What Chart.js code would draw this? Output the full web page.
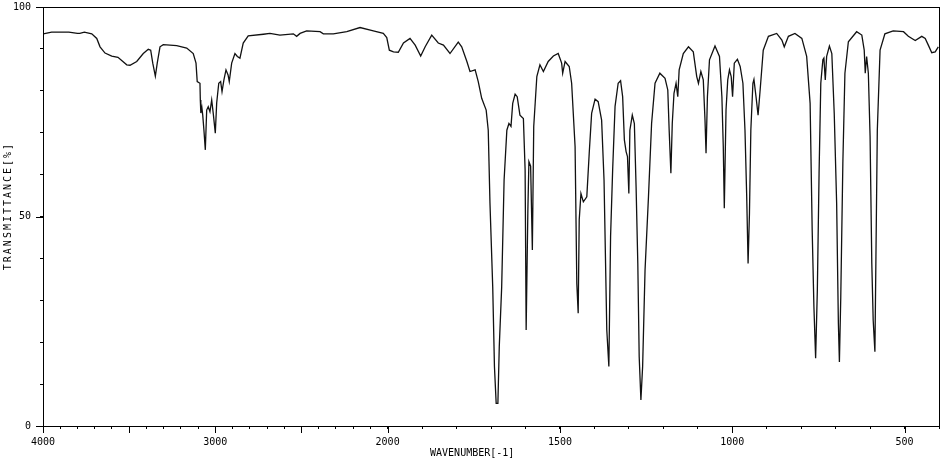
<!DOCTYPE html>
<html>
<head>
<meta charset="utf-8">
<script src="https://cdn.jsdelivr.net/npm/chart.js@4/dist/chart.umd.min.js"></script>
<style>
  html, body { margin: 0; padding: 0; background: #fff; }
  #wrap { width: 951px; height: 464px; position: relative; }
</style>
</head>
<body>
<div id="wrap"><canvas id="c"></canvas></div>
<script>
// ---- data ----
const wavenumbers = [
  3998, 3950, 3900, 3850, 3800, 3786, 3760, 3717, 3688, 3669, 3640, 3601, 3565, 3514, 3495,
  3456, 3418, 3389, 3375, 3363, 3348, 3337, 3321, 3302, 3224, 3166, 3128, 3112, 3105, 3089,
  3087, 3084, 3078, 3073, 3066, 3058, 3050, 3041, 3031, 3021, 3012, 3000, 2992, 2980, 2969,
  2961, 2950, 2938, 2926, 2919, 2905, 2886, 2872, 2857, 2838, 2809, 2721, 2683, 2625, 2547,
  2528, 2508, 2470, 2392, 2373, 2315, 2237, 2160, 2083, 2025, 2005,
  1995, 1983, 1969, 1954, 1935, 1920, 1904, 1891, 1872, 1853, 1838, 1819, 1795, 1785, 1770,
  1761, 1746, 1737, 1727, 1714, 1708, 1703, 1695, 1690, 1685, 1680, 1676, 1669, 1662, 1654,
  1648, 1642, 1637, 1630, 1624, 1616, 1606, 1601, 1598, 1593, 1590, 1585, 1580, 1576, 1567,
  1558, 1548, 1534, 1519, 1505, 1495, 1492, 1485, 1473, 1466, 1456, 1451, 1447, 1444, 1439,
  1432, 1422, 1415, 1408, 1398, 1389, 1379, 1372, 1364, 1358, 1353, 1347, 1340, 1331, 1324,
  1318, 1313, 1308, 1304, 1300, 1297, 1290, 1284, 1279, 1274, 1270, 1265, 1260, 1253, 1243,
  1234, 1224, 1210, 1195, 1187, 1183, 1178, 1174, 1169, 1163, 1158, 1154, 1142, 1127, 1113,
  1103, 1098, 1091, 1084, 1079, 1076, 1072, 1066, 1050, 1037, 1030, 1026, 1023, 1018, 1013,
  1008, 1003, 999, 994, 985, 977, 969, 963, 958, 954, 950, 946, 940, 937, 931,
  925, 919, 910, 895, 871, 856, 849, 837, 818, 798, 784, 774, 768, 763, 758,
  753, 748, 743, 737, 734, 730, 726, 718, 711, 704, 697, 692, 689, 685, 679,
  673, 663, 639, 624, 617, 614, 610, 605, 600, 595, 591, 586, 583, 579, 571,
  557, 533, 503, 489, 469, 450, 440, 431, 421, 411, 402
];
const transmittance = [
  93.6, 94.0, 94.0, 94.0, 93.7, 93.7, 94.0, 93.6, 92.5, 90.5, 89.0, 88.3, 88.0, 86.2, 86.1,
  87.0, 88.9, 89.9, 89.7, 86.6, 83.5, 86.6, 90.5, 91.0, 90.8, 90.2, 88.9, 86.6, 82.2, 81.8,
  77.8, 74.7, 76.0, 74.2, 70.6, 65.9, 75.4, 76.2, 75.0, 77.8, 74.6, 69.9, 77.1, 81.8, 82.2,
  79.8, 82.6, 85.0, 83.8, 82.2, 86.6, 88.9, 88.2, 87.8, 91.4, 93.1, 93.5, 93.7, 93.3, 93.6,
  93.0, 93.7, 94.3, 94.1, 93.6, 93.6, 94.1, 95.1, 94.3, 93.7, 92.7,
  89.7, 89.3, 89.2, 91.4, 92.5, 90.9, 88.3, 90.5, 93.3, 91.4, 90.9, 88.9, 91.6, 90.5, 87.0,
  84.6, 85.0, 82.2, 78.2, 75.4, 70.6, 53.2, 33.2, 14.2, 5.4, 5.4, 18.9, 33.2, 58.7, 70.6,
  72.2, 71.5, 77.0, 79.2, 78.6, 74.2, 73.4, 61.1, 22.9, 51.6, 63.1, 62.0, 42.0, 71.5, 83.4,
  86.2, 84.6, 87.0, 88.3, 88.9, 86.6, 84.2, 87.0, 85.8, 81.8, 66.7, 34.0, 26.9, 49.2, 55.5,
  53.5, 54.7, 65.1, 74.6, 78.0, 77.4, 73.0, 58.7, 22.9, 14.2, 45.2, 61.1, 76.3, 81.8, 82.4,
  78.6, 68.3, 65.5, 64.3, 55.5, 70.6, 74.2, 72.2, 57.1, 38.8, 16.6, 6.2, 14.2, 37.2, 54.8,
  72.2, 81.8, 84.2, 83.0, 80.2, 70.6, 60.3, 72.2, 79.4, 81.8, 78.6, 85.0, 88.9, 90.5, 89.3,
  83.4, 81.8, 84.6, 82.6, 73.0, 65.1, 78.6, 87.4, 90.7, 88.2, 78.6, 66.7, 52.0, 75.4, 82.6,
  85.0, 83.4, 78.6, 86.6, 87.5, 85.8, 81.8, 70.6, 54.8, 38.8, 50.8, 70.6, 81.8, 82.7, 78.6,
  74.2, 80.2, 89.7, 93.0, 93.7, 92.1, 90.5, 93.0, 93.7, 92.5, 88.2, 77.0, 46.8, 28.5, 16.2,
  32.5, 60.3, 81.8, 87.4, 87.8, 82.6, 88.2, 90.7, 88.9, 74.6, 53.1, 24.5, 15.3, 30.9, 62.7,
  84.2, 91.7, 94.1, 93.3, 89.7, 84.2, 88.2, 84.2, 69.1, 38.8, 25.3, 17.7, 40.4, 70.6, 89.7,
  93.6, 94.3, 94.1, 93.0, 92.0, 93.0, 92.5, 90.9, 89.1, 89.3, 90.5
];
// tick marks every 100 cm-1, labelled ones, and long (major) ones
const xTickWavenumbers = [];
for (let w = 4000; w >= 400; w -= 100) xTickWavenumbers.push(w);
const xLabelWavenumbers = [4000, 3000, 2000, 1500, 1000, 500];
const xMajorWavenumbers = [4000, 3500, 3000, 2500, 2000, 1500, 1000, 500];
const yLabelValues = [0, 50, 100];
const xTitle = 'WAVENUMBER[-1]';
const yTitle = 'TRANSMITTANCE[%]';

// ---- split wavenumber axis (scale halves above 2000 cm-1) ----
function toPos(w) { return w >= 2000 ? (4000 - w) / 2 : 1000 + (2000 - w); }
function toWn(p) { return p <= 1000 ? 4000 - 2 * p : 2000 - (p - 1000); }

const points = wavenumbers.map((w, i) => ({ x: toPos(w), y: transmittance[i] }));

Chart.defaults.font.family = "'DejaVu Sans Mono', monospace";
Chart.defaults.font.size = 10;
Chart.defaults.color = '#000';

const framePlugin = {
  id: 'frame',
  afterDraw(chart) {
    const { ctx, chartArea: a, scales } = chart;
    ctx.save();
    ctx.strokeStyle = '#000';
    ctx.lineWidth = 1;
    ctx.strokeRect(Math.round(a.left) + 0.5, Math.round(a.top) + 0.5,
                   Math.round(a.right - a.left), Math.round(a.bottom - a.top));
    // long ticks
    ctx.beginPath();
    xMajorWavenumbers.forEach(w => {
      const px = Math.round(scales.x.getPixelForValue(toPos(w))) + 0.5;
      ctx.moveTo(px, a.bottom); ctx.lineTo(px, a.bottom + 7);
    });
    yLabelValues.forEach(v => {
      const py = Math.round(scales.y.getPixelForValue(v)) + 0.5;
      ctx.moveTo(a.left - 7, py); ctx.lineTo(a.left, py);
    });
    ctx.stroke();
    // titles
    ctx.fillStyle = '#000';
    ctx.font = "10px 'DejaVu Sans Mono', monospace";
    ctx.textAlign = 'center';
    ctx.textBaseline = 'middle';
    ctx.fillText(xTitle, a.left + (a.right - a.left) * 0.479, a.bottom + 27);
    ctx.translate(a.left - 35, a.top + (a.bottom - a.top) * 0.475);
    ctx.rotate(-Math.PI / 2);
    ctx.letterSpacing = '2px';
    ctx.fillText(yTitle, 0, 0);
    ctx.restore();
  }
};

new Chart(document.getElementById('c'), {
  type: 'line',
  data: {
    datasets: [{
      data: points,
      borderColor: '#111',
      borderWidth: 1.3,
      pointRadius: 0,
      tension: 0,
      fill: false
    }]
  },
  options: {
    responsive: true,
    maintainAspectRatio: false,
    animation: false,
    events: [],
    layout: { autoPadding: false, padding: { top: 7, right: 12, left: 0, bottom: 0 } },
    plugins: { legend: { display: false }, tooltip: { enabled: false } },
    scales: {
      x: {
        type: 'linear',
        min: 0,
        max: 2600,
        afterBuildTicks(scale) {
          scale.ticks = xTickWavenumbers.map(w => ({ value: toPos(w) }));
        },
        afterFit(scale) {
          scale.height = 38;
          scale.paddingLeft = 0; scale.paddingRight = 0;
        },
        ticks: {
          autoSkip: false,
          maxRotation: 0,
          padding: 7,
          callback(value) {
            const w = Math.round(toWn(value));
            return xLabelWavenumbers.includes(w) ? String(w) : '';
          }
        },
        grid: { drawOnChartArea: false, drawTicks: true, tickLength: 3, tickColor: '#000' },
        border: { display: true, color: '#000', width: 1 }
      },
      y: {
        min: 0,
        max: 100,
        afterFit(scale) {
          scale.width = 43;
          scale.paddingTop = 0; scale.paddingBottom = 0;
        },
        ticks: {
          stepSize: 10,
          padding: 9,
          callback(value) { return yLabelValues.includes(value) ? String(value) : ''; }
        },
        grid: { drawOnChartArea: false, drawTicks: true, tickLength: 3, tickColor: '#000' },
        border: { display: true, color: '#000', width: 1 }
      }
    }
  },
  plugins: [framePlugin]
});
</script>
</body>
</html>
